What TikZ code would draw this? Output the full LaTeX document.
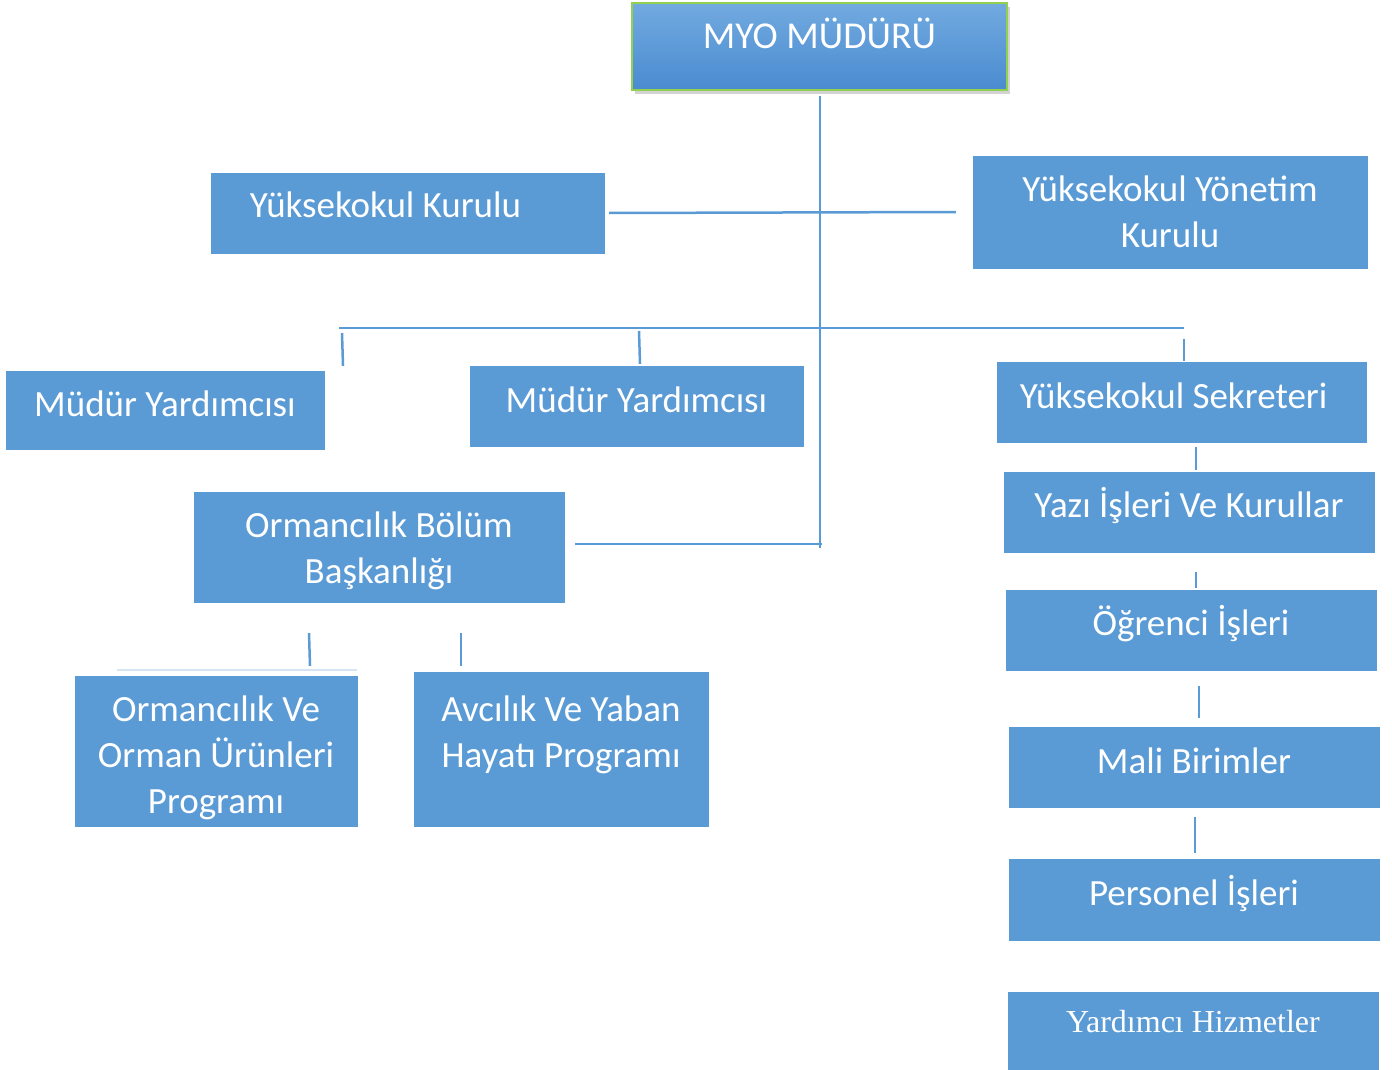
\documentclass[tikz,border=0pt]{standalone}
\usepackage{fontspec}
\setmainfont{Carlito}
\newfontfamily\timesfont{Liberation Serif}
\usetikzlibrary{shadows}
\definecolor{boxblue}{HTML}{5B9BD5}
\definecolor{toplight}{HTML}{72AAE0}
\definecolor{topdark}{HTML}{4A8BD0}
\definecolor{topgreen}{HTML}{92D050}
\definecolor{faintblue}{HTML}{D6E4F3}

\begin{document}
\begin{tikzpicture}[x=1pt, y=-1pt,
        unit/.style={fill=boxblue, draw=boxblue, inner sep=0pt},
        every label/.style={text=white, align=center, inner sep=0pt,
            font=\fontsize{37}{46}\selectfont},
        link/.style={draw=boxblue, line width=2.5pt}]
    \useasboundingbox (0,0) rectangle (1392,1070);

    \node[unit, minimum width=375, minimum height=87, top color=toplight, bottom color=topdark,
        draw=topgreen, line width=1.5pt,
        drop shadow={shadow xshift=3pt, shadow yshift=-4pt, opacity=.35},
        label={[yshift=13pt, font=\fontsize{38}{46}\selectfont]center:MYO MÜDÜRÜ}] (myo) at (819.5,46.5) {};

    \node[unit, minimum width=393, minimum height=80, label={[xshift=-22pt, yshift=8pt]center:Yüksekokul Kurulu}] (kurul) at (407.5,213) {};
    \node[unit, minimum width=394, minimum height=112, label={center:Yüksekokul Yönetim\\Kurulu}] (yonetim) at (1170,212) {};

    \node[unit, minimum width=318, minimum height=78, label={[yshift=6pt]center:Müdür Yardımcısı}] (mudur1) at (165,410) {};
    \node[unit, minimum width=333, minimum height=80, label={[yshift=6pt]center:Müdür Yardımcısı}] (mudur2) at (636.5,406) {};
    \node[unit, minimum width=369, minimum height=80, label={[xshift=-8pt, yshift=6pt]center:Yüksekokul Sekreteri}] (sekreter) at (1181.5,402) {};
    \node[unit, minimum width=370, minimum height=80, label={[yshift=6pt]center:Yazı İşleri Ve Kurullar}] (yazi) at (1189,512) {};
    \node[unit, minimum width=370, minimum height=80, label={[yshift=6pt]center:Öğrenci İşleri}] (ogrenci) at (1191,630) {};
    \node[unit, minimum width=370, minimum height=80, label={[yshift=6pt]center:Mali Birimler}] (mali) at (1194,767) {};
    \node[unit, minimum width=370, minimum height=81, label={[yshift=6pt]center:Personel İşleri}] (personel) at (1194,899.5) {};
    \node[unit, minimum width=370, minimum height=78,
        label={[yshift=9pt, font=\timesfont\fontsize{32}{40}\selectfont]center:Yardımcı Hizmetler}] (yardimci) at (1193,1031) {};

    \node[unit, minimum width=370, minimum height=110, label={[yshift=-4pt]center:Ormancılık Bölüm\\Başkanlığı}] (bolum) at (379,547) {};
    \node[unit, minimum width=282, minimum height=150, label={[yshift=-7pt]center:Ormancılık Ve\\Orman Ürünleri\\Programı}] (orman) at (216,751) {};
    \node[unit, minimum width=294, minimum height=154, label={[yshift=14pt]center:Avcılık Ve Yaban\\Hayatı Programı}] (avci) at (561,749) {};

    % trunk and bars
    \coordinate (trunk top) at (820,96);
    \coordinate (trunk end) at (820,548);
    \coordinate (elbow) at (822,544);
    \coordinate (bar left) at (339,328);
    \coordinate (bar right) at (1184,328);

    \draw[link] (trunk top) -- (trunk end);
    \draw[link] ([xshift=5pt]kurul.east) -- ([xshift=-17pt]yonetim.west);
    \draw[link] (bar left) -- (bar right);
    \draw[link] ([xshift=3pt,yshift=-5pt]bar left) -- ([xshift=178pt,yshift=5pt]mudur1.north);
    \draw[link] ([xshift=300pt,yshift=-3pt]bar left) -- ([xshift=3.5pt,yshift=2pt]mudur2.north);
    \draw[link] ([yshift=-11pt]bar right) -- ([xshift=2.5pt,yshift=1pt]sekreter.north);
    \draw[link] ([xshift=11pt,yshift=3pt]bolum.east) -- (elbow);

    % programs
    \draw[link] ([xshift=-70pt,yshift=-31pt]bolum.south) -- ([xshift=94pt,yshift=10pt]orman.north);
    \draw[link] ([xshift=82pt,yshift=-31pt]bolum.south) -- ([xshift=-100pt,yshift=6pt]avci.north);
    \draw[faintblue, line width=2pt] ([xshift=42pt,yshift=6pt]orman.north west) -- ([yshift=6pt]orman.north east);

    % right column
    \draw[link] ([xshift=14.5pt,yshift=-5pt]sekreter.south) -- ([xshift=7pt,yshift=2pt]yazi.north);
    \draw[link] ([xshift=7pt,yshift=-20pt]yazi.south) -- ([xshift=5pt,yshift=2pt]ogrenci.north);
    \draw[link] ([xshift=8pt,yshift=-16pt]ogrenci.south) -- ([xshift=5pt,yshift=9pt]mali.north);
    \draw[link] ([xshift=1pt,yshift=-10pt]mali.south) -- ([xshift=1pt,yshift=6pt]personel.north);
\end{tikzpicture}
\end{document}
